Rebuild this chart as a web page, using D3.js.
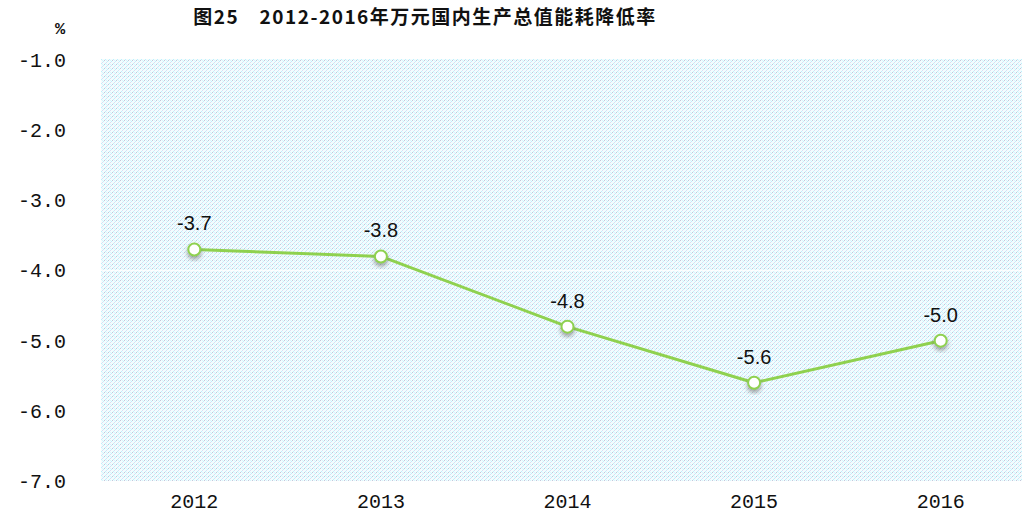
<!DOCTYPE html>
<html>
<head>
<meta charset="utf-8">
<script src="https://cdn.jsdelivr.net/npm/d3@7"></script>
<style>
  body { margin: 0; background: #fff; }
  svg { display: block; }
</style>
</head>
<body>
<div id="chart"></div>
<script>
const title = "图25　2012-2016年万元国内生产总值能耗降低率";
const years = ["2012", "2013", "2014", "2015", "2016"];
const values = [-3.7, -3.8, -4.8, -5.6, -5.0];
const yTicks = [-1, -2, -3, -4, -5, -6, -7];
const unit = "%";

const width = 1022, height = 518;
const margin = { top: 60, right: -12, bottom: 37, left: 101 };

const svg = d3.select("#chart").append("svg")
  .attr("width", width)
  .attr("height", height);

// dotted background pattern
const defs = svg.append("defs");
const pat = defs.append("pattern")
  .attr("id", "dots")
  .attr("width", 4).attr("height", 4)
  .attr("patternUnits", "userSpaceOnUse");
pat.append("rect").attr("width", 4).attr("height", 4).attr("fill", "#f3fcfe");
pat.append("rect").attr("x", 0).attr("y", 0).attr("width", 1).attr("height", 1).attr("fill", "#c4c6da");
pat.append("rect").attr("x", 2).attr("y", 2).attr("width", 1).attr("height", 1).attr("fill", "#dcdcf2");
pat.append("rect").attr("x", 1).attr("y", 3).attr("width", 1).attr("height", 1).attr("fill", "#bdf1fc");
pat.append("rect").attr("x", 3).attr("y", 1).attr("width", 1).attr("height", 1).attr("fill", "#bdf1fc");
pat.append("rect").attr("x", 2).attr("y", 0).attr("width", 1).attr("height", 1).attr("fill", "#d8f6fd");

const shadow = defs.append("filter").attr("id", "shadow")
  .attr("x", "-50%").attr("y", "-50%").attr("width", "200%").attr("height", "200%");
shadow.append("feDropShadow")
  .attr("dx", 0).attr("dy", 3).attr("stdDeviation", 2)
  .attr("flood-color", "#666").attr("flood-opacity", 0.6);

const x = d3.scaleBand()
  .domain(years)
  .range([margin.left, width - margin.right]);

const y = d3.scaleLinear()
  .domain([-7, -1])
  .range([height - margin.bottom, margin.top]);

// plot area
svg.append("rect")
  .attr("x", margin.left)
  .attr("y", y(-1) - 1)
  .attr("width", width - margin.left - margin.right)
  .attr("height", y(-7) - y(-1) + 1)
  .attr("fill", "url(#dots)");

// faint gridline visible in the original
svg.append("line")
  .attr("x1", margin.left).attr("x2", width)
  .attr("y1", y(-4)).attr("y2", y(-4))
  .attr("stroke", "#fff").attr("stroke-width", 1.5).attr("stroke-opacity", 0.8);

// title
svg.append("text")
  .attr("x", 425).attr("y", 24)
  .attr("text-anchor", "middle")
  .style("font-family", "'Noto Sans CJK SC', sans-serif")
  .style("font-size", "19px")
  .style("font-weight", "bold")
  .style("letter-spacing", "1.5px")
  .attr("fill", "#111")
  .text(title);

// y axis
const yAxis = svg.append("g")
  .attr("transform", `translate(${margin.left - 35},0)`)
  .call(d3.axisLeft(y).tickValues(yTicks).tickSize(0).tickPadding(0).tickFormat(d3.format(".1f")));
yAxis.select(".domain").remove();
yAxis.selectAll("text")
  .text(d => d3.format(".1f")(d).replace("−", "-"))
  .style("font-family", "'Liberation Mono', monospace")
  .style("font-size", "20px")
  .attr("fill", "#111");

svg.append("text")
  .attr("x", 60).attr("y", 34)
  .attr("text-anchor", "middle")
  .style("font-family", "'Liberation Mono', monospace")
  .style("font-size", "17px")
  .style("font-weight", "bold")
  .attr("fill", "#111")
  .text(unit);

// x axis
const xAxis = svg.append("g")
  .attr("transform", `translate(0,${height - margin.bottom})`)
  .call(d3.axisBottom(x).tickSize(0).tickPadding(13));
xAxis.select(".domain").remove();
xAxis.selectAll("text")
  .style("font-family", "'Liberation Mono', monospace")
  .style("font-size", "20px")
  .attr("fill", "#111");

const cx = d => x(d.year) + x.bandwidth() / 2;
const data = years.map((year, i) => ({ year, value: values[i] }));

// line
const line = d3.line().x(cx).y(d => y(d.value));
svg.append("path")
  .datum(data)
  .attr("fill", "none")
  .attr("stroke", "#8fd14f")
  .attr("stroke-width", 3)
  .attr("stroke-linejoin", "round")
  .attr("d", line);

// markers
svg.selectAll(".pt")
  .data(data)
  .enter()
  .append("circle")
  .attr("class", "pt")
  .attr("cx", cx)
  .attr("cy", d => y(d.value))
  .attr("r", 6)
  .attr("fill", "#fff")
  .attr("stroke", "#8fd14f")
  .attr("stroke-width", 2)
  .attr("filter", "url(#shadow)");

// value labels
svg.selectAll(".lbl")
  .data(data)
  .enter()
  .append("text")
  .attr("class", "lbl")
  .attr("x", cx)
  .attr("y", d => y(d.value) - 19)
  .attr("text-anchor", "middle")
  .style("font-family", "'Liberation Sans', Arial, sans-serif")
  .style("font-size", "20px")
  .attr("fill", "#111")
  .text(d => d3.format(".1f")(d.value).replace("−", "-"));
</script>
</body>
</html>
